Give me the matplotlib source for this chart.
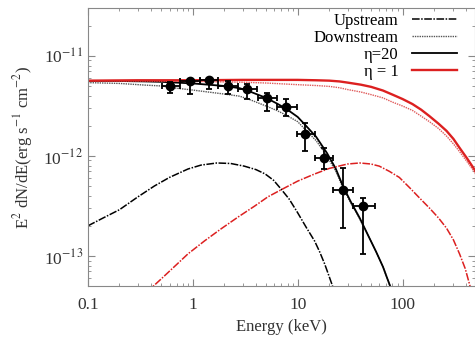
import numpy as np
import matplotlib
matplotlib.use("Agg")
import matplotlib.pyplot as plt
from matplotlib.ticker import NullFormatter

plt.rcParams['font.family'] = ['Liberation Serif', 'DejaVu Serif']
plt.rcParams['mathtext.fontset'] = 'stix'

# data points (keV, erg s^-1 cm^-2), with error bar bounds
e_data = [0.604, 0.936, 1.42, 2.15, 3.27, 5.07, 7.69, 11.7, 17.7, 26.8, 41.6]
e_lo = [0.507, 0.752, 1.166, 1.73, 2.68, 4.16, 6.31, 9.78, 14.5, 21.5, 33.4]
e_hi = [0.752, 1.166, 1.73, 2.68, 4.07, 6.31, 9.78, 14.5, 21.5, 33.4, 54.1]
f_data = [5.0e-12, 5.62e-12, 5.75e-12, 5.0e-12, 4.68e-12, 3.8e-12, 3.09e-12, 1.66e-12, 9.55e-13, 4.57e-13, 3.16e-13]
f_lo = [4.27e-12, 4.17e-12, 4.68e-12, 4.17e-12, 3.72e-12, 2.82e-12, 2.51e-12, 1.12e-12, 7.41e-13, 1.91e-13, 1.05e-13]
f_hi = [5.5e-12, 5.9e-12, 6.0e-12, 5.62e-12, 5.25e-12, 4.27e-12, 3.72e-12, 2.14e-12, 1.2e-12, 7.59e-13, 3.8e-13]

# eta = 20 model: total and downstream
e_m20 = [0.1, 0.2, 0.35, 0.5, 0.7, 1.0, 1.4, 2.0, 2.8, 3.5, 5.0, 6.3, 7.8, 10, 12, 15, 19,
         23, 27, 32, 39, 47, 56, 65, 75, 80]
f_tot20 = [5.6e-12, 5.6e-12, 5.55e-12, 5.5e-12, 5.4e-12, 5.3e-12, 5.15e-12, 5.0e-12, 4.75e-12,
           4.4e-12, 3.8e-12, 3.35e-12, 2.95e-12, 2.45e-12, 2.0e-12, 1.55e-12, 1.07e-12,
           7.5e-13, 5.0e-13, 3.5e-13, 2.4e-13, 1.6e-13, 1.1e-13, 7.8e-14, 5.2e-14, 4.4e-14]
f_down20 = [5.4e-12, 5.3e-12, 5.1e-12, 5.0e-12, 4.75e-12, 4.55e-12, 4.35e-12, 4.15e-12, 3.95e-12,
            3.65e-12, 3.15e-12, 2.85e-12, 2.55e-12, 2.2e-12, 1.8e-12, 1.42e-12, 1.0e-12,
            7.1e-13, 4.8e-13, 3.4e-13, 2.35e-13, 1.6e-13, 1.1e-13, 7.8e-14, 5.2e-14, 4.4e-14]
# eta = 20 upstream
e_up20 = [0.1, 0.14, 0.2, 0.3, 0.43, 0.6, 0.9, 1.2, 1.7, 2.3, 3.1, 4.0, 4.9, 5.9, 6.9, 8.3,
          10, 12, 14.5, 16.2, 18.1, 20, 21.5, 23]
f_up20 = [2.0e-13, 2.4e-13, 2.9e-13, 3.9e-13, 5.0e-13, 6.1e-13, 7.4e-13, 8.1e-13, 8.5e-13,
          8.4e-13, 7.9e-13, 7.3e-13, 6.6e-13, 5.7e-13, 4.7e-13, 3.7e-13, 2.7e-13, 1.95e-13,
          1.41e-13, 1.1e-13, 8.3e-14, 6.2e-14, 5.0e-14, 4.0e-14]

# eta = 1 model: total and downstream
e_m1 = [0.1, 0.3, 1, 3, 5, 10, 15, 20, 25, 30, 40, 50, 65, 80, 100, 124, 150, 180, 220,
        262, 305, 350, 410, 485, 520]
f_tot1 = [5.65e-12, 5.7e-12, 5.7e-12, 5.75e-12, 5.75e-12, 5.75e-12, 5.7e-12, 5.65e-12,
          5.55e-12, 5.4e-12, 5.15e-12, 4.9e-12, 4.5e-12, 4.1e-12, 3.7e-12, 3.3e-12, 2.9e-12,
          2.5e-12, 2.1e-12, 1.78e-12, 1.48e-12, 1.2e-12, 9.5e-13, 7.3e-13, 6.3e-13]
f_down1 = [5.6e-12, 5.6e-12, 5.55e-12, 5.45e-12, 5.35e-12, 5.15e-12, 5.05e-12, 4.95e-12,
           4.8e-12, 4.6e-12, 4.35e-12, 4.1e-12, 3.8e-12, 3.45e-12, 3.15e-12, 2.85e-12, 2.5e-12,
           2.2e-12, 1.88e-12, 1.58e-12, 1.32e-12, 1.1e-12, 8.8e-13, 6.9e-13, 6.0e-13]
# eta = 1 upstream
e_up1 = [0.36, 0.5, 0.7, 0.9, 1.3, 1.85, 2.7, 3.9, 5.2, 6.9, 10, 14.5, 20, 29.9, 39, 50, 60,
         75, 93, 117, 145, 181, 220, 262, 305, 349, 395, 435, 460]
f_up1 = [4.3e-14, 5.9e-14, 8.2e-14, 1.05e-13, 1.42e-13, 1.86e-13, 2.45e-13, 3.16e-13, 3.9e-13,
         4.57e-13, 5.6e-13, 6.6e-13, 7.5e-13, 8.3e-13, 8.5e-13, 8.3e-13, 7.9e-13, 7.0e-13,
         6.1e-13, 4.8e-13, 3.8e-13, 3.0e-13, 2.4e-13, 1.9e-13, 1.45e-13, 1.05e-13, 7.5e-14,
         5.2e-14, 4.2e-14]

red = '#dc2020'
fig = plt.figure(figsize=(4.75, 3.37), dpi=100)
ax = fig.add_axes([0.185, 0.151, 0.815, 0.825])

dashdot = (0, (5, 1, 1, 1))
dotted = (0, (1, 0.7))
ax.plot(e_up20, f_up20, color='black', lw=1.1, ls=dashdot, label='Upstream')
ax.plot(e_m20, f_down20, color='#555555', lw=1.0, ls=dotted, label='Downstream')
ax.plot(e_m20, f_tot20, color='black', lw=1.3, label='η=20')
ax.plot(e_up1, f_up1, color=red, lw=1.1, ls=dashdot)
ax.plot(e_m1, f_down1, color='#e05a5a', lw=1.0, ls=dotted)
ax.plot(e_m1, f_tot1, color=red, lw=1.7, label='η = 1')

xerr = [np.array(e_data) - np.array(e_lo), np.array(e_hi) - np.array(e_data)]
yerr = [np.array(f_data) - np.array(f_lo), np.array(f_hi) - np.array(f_data)]
ax.errorbar(e_data, f_data, xerr=xerr, yerr=yerr, fmt='o', color='black', ms=6,
            elinewidth=1.3, capsize=2.5, capthick=1.3, zorder=5)

ax.set_xscale('log')
ax.set_yscale('log')
ax.set_xlim(0.1, 490)
ax.set_ylim(5e-14, 3e-11)
ax.set_xticks([0.1, 1, 10, 100])
ax.set_xticklabels(['0.1', '1', '10', '100'])
ax.set_yticks([1e-13, 1e-12, 1e-11])
ax.set_yticklabels([r'10$^{-13}$', r'10$^{-12}$', r'10$^{-11}$'])
ax.xaxis.set_minor_formatter(NullFormatter())
ax.yaxis.set_minor_formatter(NullFormatter())

for sp in ax.spines.values():
    sp.set_color('#888888')
ax.tick_params(which='both', direction='in', top=True, right=True, colors='#888888',
               labelcolor='#333333', labelsize=12.5)
ax.tick_params(which='major', length=5)
ax.tick_params(which='minor', length=2.5)
ax.tick_params(axis='x', pad=8)

ax.set_xlabel('Energy (keV)', fontsize=12, color='#333333')
ax.set_ylabel(r'E$^2$ dN/dE(erg s$^{-1}$ cm$^{-2}$)', fontsize=12, color='#333333', labelpad=6)

ax.legend(loc='upper right', bbox_to_anchor=(0.975, 1.012), frameon=False, fontsize=12,
          markerfirst=False, handlelength=2.7, labelspacing=0.05, handletextpad=0.8,
          borderaxespad=0.1)

fig.savefig('out.png', dpi=100)
